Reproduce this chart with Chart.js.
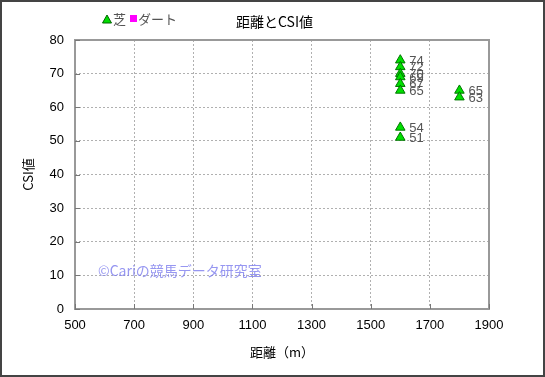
<!DOCTYPE html>
<html>
<head>
<meta charset="utf-8">
<script src="https://cdn.jsdelivr.net/npm/chart.js@4"></script>
<style>
html,body{margin:0;padding:0;background:#fff;}
#wrap{width:545px;height:377px;position:relative;}
</style>
</head>
<body>
<div id="wrap"><canvas id="chartCSI" width="545" height="377"></canvas></div>
<script>

// 芝
let turfDist = [1600,1600,1600,1600,1600,1600,1600,1600,1800,1800];
let turfCSI  = [74,72,70,69,67,65,54,51,65,63];

// ダート (no data in this chart)
let dirtDist = [];
let dirtCSI  = [];

let xTicks = [500,700,900,1100,1300,1500,1700,1900];
let yTicks = [0,10,20,30,40,50,60,70,80];

let turfPoints = turfDist.map((d,i)=>({x:d,y:turfCSI[i]}));
let dirtPoints = dirtDist.map((d,i)=>({x:d,y:dirtCSI[i]}));

const FONT = "'Liberation Sans', Arial, sans-serif";
const JFONT = "'Noto Sans CJK JP', sans-serif";

/* frame, title, legend, watermark, point labels */
let decor = {
id:'decor',
beforeDraw(chart){
let c = chart.ctx;
c.save();
c.fillStyle = '#fff';
c.fillRect(0,0,chart.width,chart.height);
c.restore();
},
afterDatasetsDraw(chart){
let c = chart.ctx;
let a = chart.chartArea;
c.save();

// plot border + ticks inside plot
c.strokeStyle = '#999';
c.lineWidth = 2;
c.strokeRect(a.left,a.top,a.right-a.left,a.bottom-a.top);
c.strokeStyle = '#777';
c.lineWidth = 1;
let xs = chart.scales.x, ys = chart.scales.y;
xTicks.forEach(v=>{
let px = Math.round(xs.getPixelForValue(v))+0.5;
c.beginPath(); c.moveTo(px,a.bottom); c.lineTo(px,a.bottom-5); c.stroke();
});
yTicks.forEach(v=>{
let py = Math.round(ys.getPixelForValue(v))+0.5;
c.beginPath(); c.moveTo(a.left,py); c.lineTo(a.left+5,py); c.stroke();
});

// point labels
c.fillStyle = '#555';
c.font = '13px '+FONT;
c.textBaseline = 'middle';
c.textAlign = 'left';
chart.getDatasetMeta(0).data.forEach((pt,i)=>{
c.fillText(String(turfCSI[i]), pt.x+9, pt.y+1);
});

// watermark
c.fillStyle = 'rgba(125,125,238,0.8)';
c.font = '14px '+JFONT;
c.fillText('©Cariの競馬データ研究室', 98, 271);

// title
c.fillStyle = '#000';
c.font = '14px '+JFONT;
c.textAlign = 'left';
c.fillText('距離とCSI値', 236, 22);

// legend
c.font = '13px '+JFONT;
c.fillStyle = '#00dd00';
c.strokeStyle = '#006600';
c.beginPath(); c.moveTo(107,15); c.lineTo(111.5,23); c.lineTo(102.5,23); c.closePath(); c.fill(); c.stroke();
c.fillStyle = '#555';
c.fillText('芝', 113, 19);
c.fillStyle = '#ff00ff';
c.fillRect(130,15,7,7);
c.fillStyle = '#555';
c.fillText('ダート', 138, 19);

// outer frame
c.strokeStyle = '#444';
c.lineWidth = 2;
c.strokeRect(1,1,chart.width-2,chart.height-2);
c.restore();
}
};

new Chart(document.getElementById('chartCSI'),{
type:'scatter',
data:{
datasets:[
{
label:'芝',
data:turfPoints,
pointStyle:'triangle',
radius:5.5,
backgroundColor:'#00e000',
borderColor:'#007700',
borderWidth:1
},
{
label:'ダート',
data:dirtPoints,
pointStyle:'rect',
radius:4,
backgroundColor:'#ff00ff',
borderColor:'#ff00ff'
}
]
},
options:{
responsive:false,
animation:false,
devicePixelRatio:1,
layout:{padding:{left:0,right:56,top:40,bottom:0}},
plugins:{
legend:{display:false},
title:{display:false},
tooltip:{enabled:false}
},
scales:{
x:{
type:'linear',
min:500,max:1900,
afterBuildTicks(s){ s.ticks = xTicks.map(v=>({value:v})); },
afterFit(s){ s.height = 68; },
border:{display:false,dash:[2,2]},
grid:{color:'#b0b0b0',drawTicks:false},
ticks:{color:'#000',font:{size:13,family:FONT},padding:9,callback:v=>String(v)},
title:{display:true,text:'距離（m）',color:'#000',font:{size:13,family:JFONT},padding:{top:4,bottom:17}}
},
y:{
type:'linear',
min:0,max:80,
afterBuildTicks(s){ s.ticks = yTicks.map(v=>({value:v})); },
afterFit(s){ s.width = 75; },
border:{display:false,dash:[2,2]},
grid:{color:'#b0b0b0',drawTicks:false},
ticks:{color:'#000',font:{size:13,family:FONT},padding:11,callback:v=>String(v)},
title:{display:true,text:'CSI値',color:'#000',font:{size:13,family:JFONT},padding:{top:20,bottom:4}}
}
}
},
plugins:[decor]
});

</script>
</body>
</html>
